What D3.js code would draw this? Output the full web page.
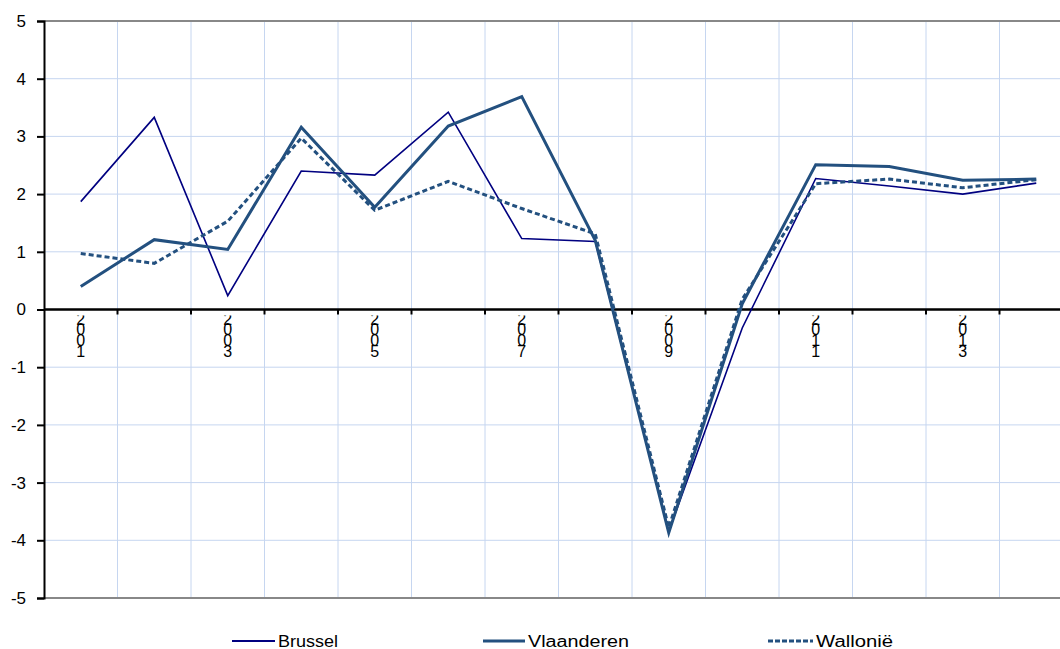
<!DOCTYPE html>
<html>
<head>
<meta charset="utf-8">
<script src="https://cdn.jsdelivr.net/npm/d3@7"></script>
<style>
  body { margin: 0; background: #fff; }
  text { font-family: "Liberation Sans", Arial, sans-serif; }
</style>
</head>
<body>
<div id="chart"></div>
<script>
let years = ['2001', '2002', '2003', '2004', '2005', '2006', '2007', '2008', '2009', '2010', '2011', '2012', '2013', '2014']
let brussel = [1.87, 3.33, 0.24, 2.40, 2.33, 3.42, 1.23, 1.18, -3.85, -0.32, 2.27, 2.14, 2.00, 2.19]
let vlaanderen = [0.40, 1.21, 1.04, 3.16, 1.77, 3.18, 3.69, 1.20, -3.87, 0.10, 2.51, 2.48, 2.24, 2.26]
let wallonie = [0.97, 0.80, 1.53, 2.97, 1.72, 2.22, 1.75, 1.31, -3.78, 0.18, 2.18, 2.26, 2.11, 2.25]
let yTicks = [-5, -4, -3, -2, -1, 0, 1, 2, 3, 4, 5]

let series = [
  { name: 'Brussel', values: brussel, color: '#000080', width: 1.6, dash: null },
  { name: 'Vlaanderen', values: vlaanderen, color: '#23507F', width: 3, dash: null },
  { name: 'Wallonië', values: wallonie, color: '#23507F', width: 3, dash: '5,3' }
]

function main () {
  let width = 1060
  let height = 649
  let svg = d3.select('#chart').append('svg').attr('width', width).attr('height', height)

  let left = 44
  let band = 73.5
  let x = d3.scaleBand().domain(years).range([left, left + band * years.length])
  let y = d3.scaleLinear().domain([-5, 5]).range([598, 21])

  // grid
  svg.append('g').selectAll('line').data(yTicks.filter((t) => t !== 0 && t !== 5 && t !== -5))
    .join('line')
    .attr('x1', left).attr('x2', width)
    .attr('y1', (d) => y(d)).attr('y2', (d) => y(d))
    .attr('stroke', '#C6D6F0').attr('stroke-width', 1)
  svg.append('g').selectAll('line').data(years.slice(1))
    .join('line')
    .attr('x1', (d) => x(d)).attr('x2', (d) => x(d))
    .attr('y1', y(5)).attr('y2', y(-5))
    .attr('stroke', '#C6D6F0').attr('stroke-width', 1)

  // frame top / bottom
  svg.append('line').attr('x1', left).attr('x2', width).attr('y1', y(5)).attr('y2', y(5))
    .attr('stroke', '#888').attr('stroke-width', 2)
  svg.append('line').attr('x1', left).attr('x2', width).attr('y1', y(-5)).attr('y2', y(-5))
    .attr('stroke', '#888').attr('stroke-width', 2)

  // y axis
  let yAxis = d3.axisLeft(y).tickValues(yTicks).tickSize(7).tickFormat(d3.format('d'))
  let ya = svg.append('g').attr('transform', `translate(${left},0)`).call(yAxis)
  ya.select('.domain').attr('stroke', '#000').attr('stroke-width', 2)
  ya.selectAll('.tick line').attr('stroke', '#000').attr('stroke-width', 2)
  ya.selectAll('.tick text').attr('font-size', 17).attr('fill', '#000').attr('x', -18)
    .attr('font-family', '"Liberation Sans", Arial, sans-serif')
    .text((d) => d < 0 ? '-' + Math.abs(d) : d)

  // zero axis
  let x0 = svg.append('g')
  x0.append('line').attr('x1', left).attr('x2', width).attr('y1', y(0)).attr('y2', y(0))
    .attr('stroke', '#000').attr('stroke-width', 2)
  x0.selectAll('line').filter((d) => d).data(years.slice(1))
    .join('line')
    .attr('x1', (d) => x(d)).attr('x2', (d) => x(d))
    .attr('y1', y(0)).attr('y2', y(0) + 5)
    .attr('stroke', '#000').attr('stroke-width', 2)
  x0.append('line').attr('x1', left).attr('x2', width).attr('y1', y(0)).attr('y2', y(0))
    .attr('stroke', '#000').attr('stroke-width', 2)

  // stacked year labels
  svg.append('clipPath').attr('id', 'lblclip').append('rect')
    .attr('x', 0).attr('y', y(0) + 6).attr('width', width).attr('height', 80)
  let lbl = svg.append('g').attr('clip-path', 'url(#lblclip)')
  lbl.selectAll('text').data(years.filter((d, i) => i % 2 === 0))
    .join('text')
    .attr('font-size', 16).attr('fill', '#000').attr('text-anchor', 'middle')
    .each(function (d) {
      let t = d3.select(this)
      d.split('').forEach((c, i) => {
        t.append('tspan').attr('x', x(d) + x.bandwidth() / 2)
          .attr('y', y(0) + 15 + i * 10.8).text(c)
      })
    })

  // lines
  let line = d3.line()
    .x((d, i) => x(years[i]) + x.bandwidth() / 2)
    .y((d) => y(d))
  svg.append('g').selectAll('path').data(series)
    .join('path')
    .attr('d', (s) => line(s.values))
    .attr('fill', 'none')
    .attr('stroke', (s) => s.color)
    .attr('stroke-width', (s) => s.width)
    .attr('stroke-dasharray', (s) => s.dash)
    .attr('stroke-linejoin', 'miter')

  // legend
  let legX = [232, 483, 768]
  let legLen = [43, 42, 45]
  let textLen = [60, 101, 77]
  let lg = svg.append('g').selectAll('g').data(series).join('g')
    .attr('transform', (s, i) => `translate(${legX[i]},641)`)
  lg.append('line').attr('x1', 0).attr('x2', (s, i) => legLen[i]).attr('y1', 0).attr('y2', 0)
    .attr('stroke', (s) => s.color)
    .attr('stroke-width', (s) => s.width === 3 ? 3 : 2)
    .attr('stroke-dasharray', (s) => s.dash ? '5,2' : null)
  lg.append('text').attr('x', (s, i) => legLen[i] + 3).attr('y', 5.5).attr('font-size', 16).attr('fill', '#000')
    .attr('textLength', (s, i) => textLen[i]).attr('lengthAdjust', 'spacingAndGlyphs')
    .text((s) => s.name)
}

main()
</script>
</body>
</html>
